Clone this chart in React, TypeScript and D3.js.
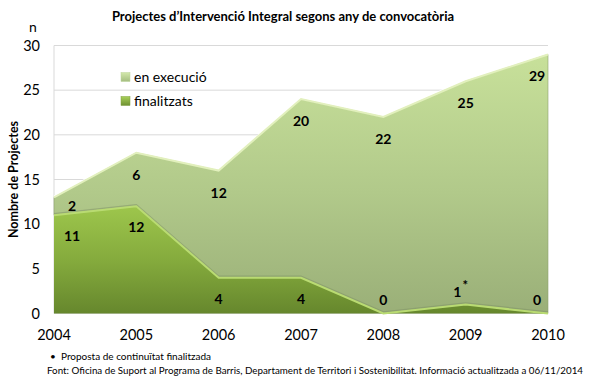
import React from 'react';
import * as d3 from 'd3';

const years: string[] = ['2004', '2005', '2006', '2007', '2008', '2009', '2010'];
const finalitzats: number[] = [11, 12, 4, 4, 0, 1, 0];
const enExecucio: number[] = [2, 6, 12, 20, 22, 25, 29];
const finalNotes: string[] = ['', '', '', '', '', '*', ''];
const yTicks: number[] = [0, 5, 10, 15, 20, 25, 30];

const seriesNames = ['finalitzats', 'en execució'];

const W = 605;
const H = 388;
const margin = { top: 45.5, right: 57, bottom: 74.5, left: 54 };
const FONT = 'Lato, "Open Sans", sans-serif';

const App: React.FC = () => {
  const x = d3
    .scalePoint<string>()
    .domain(years)
    .range([margin.left, W - margin.right]);

  const y = d3
    .scaleLinear()
    .domain([0, 30])
    .range([H - margin.bottom, margin.top]);

  const rows = years.map((yr, i) => ({
    year: yr,
    finalitzats: finalitzats[i],
    'en execució': enExecucio[i],
  }));

  const stacked = d3.stack<any>().keys(seriesNames)(rows);

  const area = d3
    .area<any>()
    .x((d) => x(d.data.year) || 0)
    .y0((d) => y(d[0]))
    .y1((d) => y(d[1]));

  const topLine = d3
    .line<any>()
    .x((d) => x(d.data.year) || 0)
    .y((d) => y(d[1]));

  const shadowLine = d3
    .line<any>()
    .x((d) => x(d.data.year) || 0)
    .y((d) => y(d[1]) - 1.5);

  const first = years[0];
  const last = years[years.length - 1];
  const labelX = (yr: string) =>
    (x(yr) || 0) + (yr === first ? 18 : yr === last ? -11 : 0);

  const [lower, upper] = stacked;

  return (
    <svg
      width={W}
      height={H}
      style={{ position: 'absolute', left: 0, top: 0, background: '#fff' }}
      fontFamily={FONT}
    >
      <defs>
        <linearGradient
          id="gUpper"
          gradientUnits="userSpaceOnUse"
          x1="0"
          y1={y(30)}
          x2="0"
          y2={y(0)}
        >
          <stop offset="0" stopColor="#c9e29b" />
          <stop offset="0.55" stopColor="#b1c98a" />
          <stop offset="1" stopColor="#9aaf78" />
        </linearGradient>
        <linearGradient
          id="gLower"
          gradientUnits="userSpaceOnUse"
          x1="0"
          y1={y(12)}
          x2="0"
          y2={y(0)}
        >
          <stop offset="0" stopColor="#9dc64c" />
          <stop offset="0.5" stopColor="#85ab3d" />
          <stop offset="1" stopColor="#66872d" />
        </linearGradient>
        <linearGradient id="gLegUp" x1="0" y1="0" x2="0" y2="1">
          <stop offset="0" stopColor="#d3e8ab" />
          <stop offset="1" stopColor="#a4bd80" />
        </linearGradient>
        <linearGradient id="gLegLow" x1="0" y1="0" x2="0" y2="1">
          <stop offset="0" stopColor="#a8d058" />
          <stop offset="1" stopColor="#6e9032" />
        </linearGradient>
      </defs>

      {/* title */}
      <text
        x={283}
        y={21}
        textAnchor="middle"
        fontWeight="bold"
        fontSize={13}
        fill="#000"
      >
        Projectes d’Intervenció Integral segons any de convocatòria
      </text>

      <text x={33} y={32} textAnchor="middle" fontSize={14} fill="#000">
        n
      </text>

      {/* grid */}
      {yTicks.map((t) => (
        <line
          key={'g' + t}
          x1={margin.left}
          x2={W - margin.right}
          y1={y(t)}
          y2={y(t)}
          stroke="#d9d9d9"
          strokeWidth={1}
        />
      ))}
      <line
        x1={margin.left}
        x2={margin.left}
        y1={y(30)}
        y2={y(0)}
        stroke="#d9d9d9"
      />

      {/* y tick labels */}
      {yTicks.map((t) => (
        <text
          key={'yt' + t}
          x={40}
          y={y(t) + 5}
          textAnchor="end"
          fontSize={14.5}
          fill="#000"
        >
          {t}
        </text>
      ))}

      {/* x tick labels */}
      {years.map((yr) => (
        <text
          key={'xt' + yr}
          x={x(yr) || 0}
          y={340}
          textAnchor="middle"
          fontSize={14.5}
          fill="#000"
        >
          {yr}
        </text>
      ))}

      <text
        transform={`translate(18, ${(y(0) + y(30)) / 2}) rotate(-90)`}
        textAnchor="middle"
        fontWeight="bold"
        fontSize={12.5}
        fill="#000"
      >
        Nombre de Projectes
      </text>

      {/* areas */}
      <path d={area(upper) || ''} fill="url(#gUpper)" stroke="#8fa36f" strokeWidth={0.6} />
      <path d={shadowLine(upper) || ''} fill="none" stroke="#fff" strokeWidth={1} opacity={0.9} />
      <path d={topLine(upper) || ''} fill="none" stroke="#e2f0bd" strokeWidth={2} />

      <path d={area(lower) || ''} fill="url(#gLower)" />
      <path d={shadowLine(lower) || ''} fill="none" stroke="#7d8f66" strokeWidth={1.5} opacity={0.5} />
      <path d={topLine(lower) || ''} fill="none" stroke="#b9db72" strokeWidth={2} />

      {/* data labels: en execució */}
      {upper.map((d: any, i: number) => (
        <text
          key={'lu' + i}
          x={labelX(d.data.year)}
          y={Math.min(y(d[1]) + 22, y((d[0] + d[1]) / 2)) + 5}
          textAnchor="middle"
          fontWeight="bold"
          fontSize={14}
          fill="#000"
        >
          {enExecucio[i]}
        </text>
      ))}

      {/* data labels: finalitzats */}
      {lower.map((d: any, i: number) => (
        <text
          key={'ll' + i}
          x={labelX(d.data.year) - (finalNotes[i] ? 5 : 0)}
          y={Math.min(y(d[1]) + 21, y(0) - 14) + 5 - (finalNotes[i] ? 8 : 0)}
          textAnchor="middle"
          fontWeight="bold"
          fontSize={14}
          fill="#000"
        >
          {finalitzats[i]}
          {finalNotes[i] ? (
            <tspan dx={1} dy={-7} fontSize={13}>
              {finalNotes[i]}
            </tspan>
          ) : null}
        </text>
      ))}

      {/* legend */}
      <rect x={121} y={72.5} width={9} height={9} fill="url(#gLegUp)" stroke="#bcd39a" strokeWidth={0.5} />
      <text x={134} y={82} fontSize={14} fill="#000">
        {seriesNames[1]}
      </text>
      <rect x={121} y={96.5} width={9} height={9} fill="url(#gLegLow)" stroke="#7f9f3e" strokeWidth={0.5} />
      <text x={134} y={106} fontSize={14} fill="#000">
        {seriesNames[0]}
      </text>

      {/* notes */}
      <text x={50} y={360} fontSize={10} fill="#000">
        •
      </text>
      <text x={61} y={360} fontSize={10} fill="#000">
        Proposta de continuïtat finalitzada
      </text>
      <text x={47} y={374} fontSize={10} fill="#000" textLength={536} lengthAdjust="spacingAndGlyphs">
        Font: Oficina de Suport al Programa de Barris, Departament de Territori i Sostenibilitat. Informació actualitzada a 06/11/2014
      </text>
    </svg>
  );
};

export default App;
